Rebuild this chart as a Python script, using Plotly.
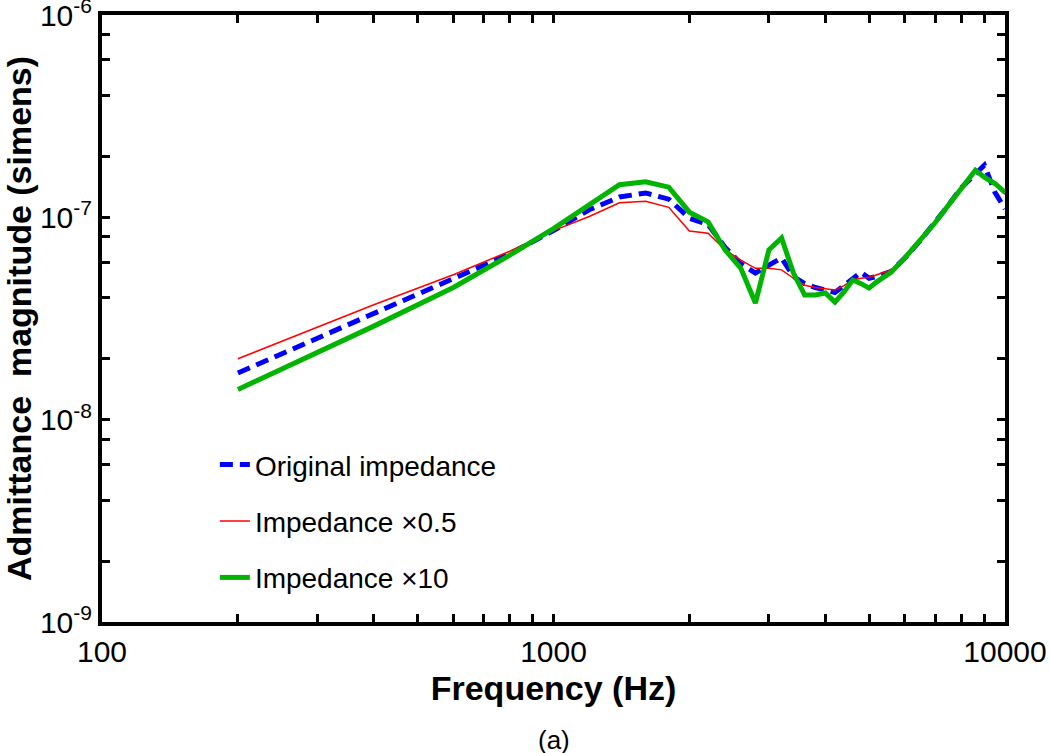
import plotly.graph_objects as go

freq = [200, 400, 600, 800, 1000, 1200, 1400, 1600, 1800, 2000, 2200, 2400,
        2600, 2800, 3000, 3200, 3400, 3600, 3800, 4000, 4200, 4400, 4600, 4800,
        5000, 5200, 5600, 6000, 6500, 7000, 7500, 8000, 8600, 9000, 9500, 10000]

original = [1.70e-8, 3.33e-8, 4.95e-8, 6.6e-8, 8.6e-8, 1.09e-7, 1.26e-7, 1.32e-7,
            1.23e-7, 9.9e-8, 9.2e-8, 7.1e-8, 5.9e-8, 5.3e-8, 5.8e-8, 6.3e-8,
            5.1e-8, 4.7e-8, 4.5e-8, 4.4e-8, 4.25e-8, 4.6e-8, 5.0e-8, 5.35e-8,
            5.0e-8, 5.1e-8, 5.4e-8, 6.3e-8, 7.7e-8, 9.4e-8, 1.15e-7, 1.40e-7,
            1.66e-7, 1.81e-7, 1.33e-7, 1.10e-7]

half = [2.0e-8, 3.7e-8, 5.2e-8, 6.8e-8, 8.6e-8, 1.01e-7, 1.18e-7, 1.20e-7,
        1.12e-7, 8.55e-8, 8.35e-8, 6.9e-8, 6.15e-8, 5.6e-8, 5.6e-8, 5.5e-8,
        5.0e-8, 4.62e-8, 4.5e-8, 4.45e-8, 4.37e-8, 4.6e-8, 4.9e-8, 5.0e-8,
        5.05e-8, 5.2e-8, 5.5e-8, 6.35e-8, 7.7e-8, 9.4e-8, 1.15e-7, 1.40e-7,
        1.71e-7, 1.58e-7, 1.45e-7, 1.30e-7]

ten = [1.41e-8, 2.9e-8, 4.5e-8, 6.5e-8, 8.8e-8, 1.16e-7, 1.45e-7, 1.50e-7,
       1.41e-7, 1.06e-7, 9.5e-8, 6.9e-8, 5.6e-8, 3.77e-8, 6.9e-8, 7.9e-8,
       5.3e-8, 4.13e-8, 4.13e-8, 4.23e-8, 3.81e-8, 4.28e-8, 4.9e-8, 4.7e-8,
       4.47e-8, 4.8e-8, 5.37e-8, 6.3e-8, 7.7e-8, 9.4e-8, 1.15e-7, 1.40e-7,
       1.71e-7, 1.58e-7, 1.47e-7, 1.33e-7]

series_names = ["Original impedance", "Impedance \u00d70.5", "Impedance \u00d710"]

x_tickvals = [100, 1000, 10000]
x_ticktext = ["100", "1000", "10000"]
x_minor = [200, 300, 400, 500, 600, 700, 800, 900,
           2000, 3000, 4000, 5000, 6000, 7000, 8000, 9000]
y_tickvals = [1e-9, 1e-8, 1e-7, 1e-6]
y_ticktext = ["10<sup>-9</sup>", "10<sup>-8</sup>", "10<sup>-7</sup>", "10<sup>-6</sup>"]
y_minor = [2e-9, 4e-9, 6e-9, 8e-9, 2e-8, 4e-8, 6e-8, 8e-8,
           2e-7, 4e-7, 6e-7, 8e-7]

FONT = "Arial, 'Liberation Sans', sans-serif"

fig = go.Figure()
fig.add_trace(go.Scatter(x=freq, y=original, mode="lines", name=series_names[0],
                         legendgroup="a",
                         line=dict(color="#0000FF", width=5, dash="13px,7px")))
fig.add_trace(go.Scatter(x=freq, y=half, mode="lines", name=series_names[1],
                         legendgroup="b",
                         line=dict(color="#FF0000", width=1.5)))
fig.add_trace(go.Scatter(x=freq, y=ten, mode="lines", name=series_names[2],
                         legendgroup="c",
                         line=dict(color="#00B400", width=5)))

axis_common = dict(
    showline=True, linewidth=4, linecolor="black", mirror="allticks",
    ticks="inside", ticklen=8, tickwidth=3, tickcolor="black",
    showgrid=False, zeroline=False, ticklabeloverflow="allow",
    tickfont=dict(family=FONT, size=30, color="black"),
)

fig.update_xaxes(
    type="log", range=[2, 4], tickmode="array",
    tickvals=x_tickvals + x_minor,
    ticktext=x_ticktext + [""] * len(x_minor),
    automargin="bottom",
    title=dict(text="<b>Frequency (Hz)</b>",
               font=dict(family=FONT, size=34, color="black"), standoff=10),
    **axis_common,
)
fig.update_yaxes(
    type="log", range=[-9, -6], tickmode="array",
    tickvals=y_tickvals + y_minor,
    ticktext=y_ticktext + [""] * len(y_minor),
    automargin="left",
    title=dict(text="<b>Admittance  magnitude (simens)</b>",
               font=dict(family=FONT, size=34, color="black"), standoff=4),
    **axis_common,
)

fig.update_layout(
    width=1050, height=753,
    margin=dict(l=97, r=45, t=15, b=131),
    paper_bgcolor="white", plot_bgcolor="white",
    font=dict(family=FONT, color="black"),
    legend=dict(x=0.125, y=0.30, xanchor="left", yanchor="top",
                bgcolor="rgba(0,0,0,0)", borderwidth=0,
                font=dict(family=FONT, size=28, color="black"),
                traceorder="grouped", tracegroupgap=17),
    annotations=[dict(text="(a)", xref="paper", yref="paper", x=0.5, y=-0.195,
                      xanchor="center", yanchor="middle", showarrow=False,
                      font=dict(family=FONT, size=26, color="black"))],
)

fig.write_html("out.html", config={"displayModeBar": False},
               post_script="document.body.style.margin='0';document.body.style.overflow='hidden';")
